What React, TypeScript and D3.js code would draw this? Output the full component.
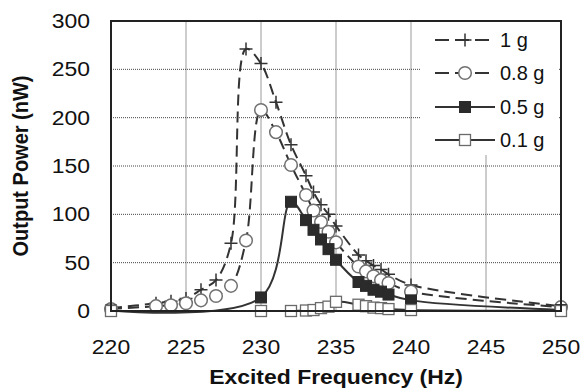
import React from "react";
import * as d3 from "d3";

const freqHigh = [220, 223, 224, 225, 226, 227, 228, 229, 230, 231, 232, 233, 233.5, 234, 234.5, 235, 236.5, 237, 237.5, 238, 238.5, 240, 250];
const power1g = [3, 8, 10, 13, 22, 32, 70, 271, 256, 216, 172, 140, 123, 110, 100, 88, 58, 52, 47, 43, 38, 27, 5];
const power08g = [2, 5, 6, 8, 11, 15.5, 26, 73, 208, 185, 151, 120, 104, 92, 82, 71, 46, 41, 36, 32, 29, 20, 4];
const freqLow = [220, 230, 232, 233, 233.5, 234, 234.5, 235, 236.5, 237, 237.5, 238, 238.5, 240, 250];
const power05g = [0.5, 14, 113, 94, 84, 74, 64, 53, 30, 26, 22, 20, 17, 11, 1];
const power01g = [0, 0, 0, 0.5, 1, 3, 4.5, 9.5, 6.5, 5, 3.5, 3, 2, 1, 0];

const xTicks = [220, 225, 230, 235, 240, 245, 250];
const yTicks = [0, 50, 100, 150, 200, 250, 300];
const legendLabels = ["1 g", "0.8 g", "0.5 g", "0.1 g"];

const W = 586, H = 389;
const L = 111, R = 561, T = 21, B = 311;
const FONT = "Liberation Sans, Arial, sans-serif";
const SX = 1.12;

type Series = { label: string; xs: number[]; ys: number[]; dash: string | null; marker: string };

const series: Series[] = [
  { label: legendLabels[0], xs: freqHigh, ys: power1g, dash: "11,6", marker: "plus" },
  { label: legendLabels[1], xs: freqHigh, ys: power08g, dash: "11,6", marker: "circle" },
  { label: legendLabels[2], xs: freqLow, ys: power05g, dash: null, marker: "fsquare" },
  { label: legendLabels[3], xs: freqLow, ys: power01g, dash: null, marker: "osquare" },
];

function Marker({ kind, x, y }: { kind: string; x: number; y: number }) {
  if (kind === "plus")
    return (
      <path d={`M${x - 6.5},${y}H${x + 6.5}M${x},${y - 6.5}V${y + 6.5}`} stroke="#333" strokeWidth={1.5} fill="none" />
    );
  if (kind === "circle") return <circle cx={x} cy={y} r={6.3} fill="#fff" stroke="#707070" strokeWidth={1.5} />;
  if (kind === "fsquare") return <rect x={x - 5.5} y={y - 5.5} width={11} height={11} fill="#2b2b2b" stroke="#2b2b2b" strokeWidth={1} />;
  return <rect x={x - 5.5} y={y - 5.5} width={11} height={11} fill="#fff" stroke="#6a6a6a" strokeWidth={1.3} />;
}

export default function App() {
  const x = d3.scaleLinear().domain([220, 250]).range([L, R]);
  const y = d3.scaleLinear().domain([0, 300]).range([B, T]);
  const line = d3
    .line<[number, number]>()
    .x((d) => x(d[0]))
    .y((d) => y(d[1]))
    .curve(d3.curveCatmullRom.alpha(0.5));

  const legX = 420, legY = 22, legW = 139, legH = 133;
  const legRows = [40, 73, 107, 140];

  return (
    <svg width={W} height={H} style={{ position: "absolute", left: 0, top: 0 }} fontFamily={FONT}>
      <rect x={0} y={0} width={W} height={H} fill="#fff" />
      {xTicks.slice(1, -1).map((t) => (
        <line key={"vx" + t} x1={x(t)} x2={x(t)} y1={T} y2={B} stroke="#9a9a9a" strokeWidth={1} />
      ))}
      {yTicks.slice(1, -1).map((t) => (
        <line key={"hy" + t} x1={L} x2={R} y1={y(t)} y2={y(t)} stroke="#444" strokeWidth={1} strokeDasharray="1,1" />
      ))}
      <rect x={legX} y={legY} width={legW} height={legH} fill="#fff" />
      {series.map((s) => {
        const pts = s.xs.map((f, i) => [f, s.ys[i]] as [number, number]);
        return (
          <g key={s.label}>
            <path d={line(pts) || ""} fill="none" stroke="#333" strokeWidth={2} strokeDasharray={s.dash || undefined} />
            {pts.map((p, i) => (
              <Marker key={i} kind={s.marker} x={x(p[0])} y={y(p[1])} />
            ))}
          </g>
        );
      })}
      <rect x={L} y={T} width={R - L} height={B - T} fill="none" stroke="#222" strokeWidth={2} />
      {yTicks.map((t) => (
        <text key={"yl" + t} transform={`translate(90,${y(t) + 7}) scale(${SX},1)`} textAnchor="end" fontSize={20.5} fill="#111">
          {t}
        </text>
      ))}
      {xTicks.map((t) => (
        <text key={"xl" + t} transform={`translate(${x(t)},354) scale(${SX},1)`} textAnchor="middle" fontSize={20.5} fill="#111">
          {t}
        </text>
      ))}
      <text transform={`translate(336,384) scale(${SX},1)`} textAnchor="middle" fontSize={20.5} fontWeight="bold" fill="#111">
        Excited Frequency (Hz)
      </text>
      <text transform={`translate(28,166) scale(${SX},1) rotate(-90)`} textAnchor="middle" fontSize={20} fontWeight="bold" fill="#111">
        Output Power (nW)
      </text>
      {series.map((s, i) => {
        const yy = legRows[i];
        return (
          <g key={"lg" + i}>
            <line x1={435} x2={495} y1={yy} y2={yy} stroke="#333" strokeWidth={2} strokeDasharray={s.dash ? "14,6" : undefined} />
            <Marker kind={s.marker} x={465} y={yy} />
            <text x={500} y={yy + 7} fontSize={20} fill="#111">
              {s.label}
            </text>
          </g>
        );
      })}
    </svg>
  );
}
